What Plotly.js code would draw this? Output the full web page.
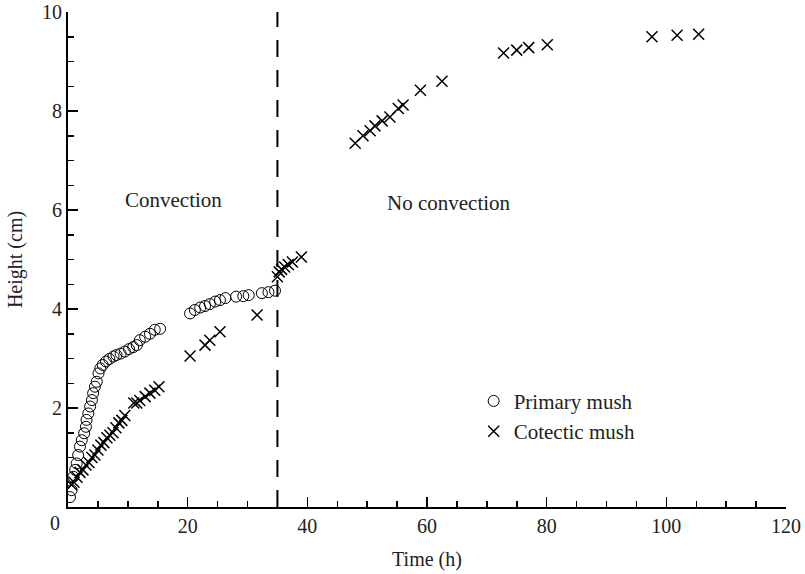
<!DOCTYPE html>
<html>
<head>
<meta charset="utf-8">
<script src="https://cdn.plot.ly/plotly-3.0.1.min.js"></script>
<style>html,body{margin:0;padding:0;background:#fff;}#chart{width:805px;height:574px;}</style>
</head>
<body>
<div id="chart"></div>
<script>
// Primary mush (open circles)
const primaryTime = [0.33,0.6,0.9,1.2,1.45,1.7,2.0,2.3,2.7,3.0,3.1,3.4,3.7,4.0,4.2,4.5,4.8,5.1,5.4,5.8,6.35,6.9,7.6,8.1,8.8,9.5,10.2,10.9,11.5,12.0,12.9,13.7,14.5,15.4,
  20.4,21.2,22.1,22.9,23.7,24.6,25.4,26.3,28.1,29.3,30.2,32.4,33.5,34.6];
const primaryHeight = [0.2,0.34,0.61,0.75,0.88,1.05,1.22,1.35,1.49,1.62,1.76,1.89,2.03,2.16,2.3,2.43,2.53,2.7,2.8,2.87,2.94,2.99,3.04,3.07,3.1,3.14,3.19,3.23,3.27,3.37,3.44,3.5,3.58,3.6,
  3.91,3.98,4.03,4.06,4.1,4.15,4.18,4.22,4.25,4.26,4.28,4.32,4.34,4.37];
// Cotectic mush (crosses)
const cotecticTime = [0.6,1.0,1.5,2.0,2.5,3.0,3.5,4.0,4.5,5.0,5.5,6.0,6.5,7.0,7.5,8.0,8.5,9.0,9.5,11.0,11.5,12.0,12.9,13.7,14.5,15.2,
  20.4,22.9,23.7,25.4,31.6,
  35.0,35.3,35.7,36.2,36.8,37.5,39.0,
  48.0,49.3,50.5,51.3,52.5,53.8,55.2,56.0,58.9,62.5,72.8,75.0,77.0,80.1,97.6,101.8,105.4];
const cotecticHeight = [0.45,0.5,0.6,0.7,0.75,0.85,0.9,1.0,1.05,1.15,1.25,1.3,1.4,1.45,1.5,1.6,1.7,1.75,1.85,2.1,2.1,2.15,2.23,2.3,2.36,2.43,
  3.05,3.27,3.37,3.54,3.88,
  4.65,4.75,4.8,4.85,4.9,4.95,5.05,
  7.35,7.5,7.6,7.7,7.8,7.88,8.05,8.12,8.42,8.6,9.17,9.23,9.28,9.34,9.5,9.53,9.55];
const seriesNames = ['Primary mush','Cotectic mush'];
const regimeBoundary = [35];
const regimeLabels = ['Convection','No convection'];
const regimeLabelX = [17.6, 63.7];
const regimeLabelY = [6.2, 6.15];
const xTicks = [20,40,60,80,100,120];
const xTickText = ['20','40','60','80','100','120'];
const yTicks = [2,4,6,8,10];
const yTickText = ['2','4','6','8','10'];

const font = 'Liberation Serif, Times New Roman, serif';
const ink = '#222';

const traces = [
  {x: primaryTime, y: primaryHeight, name: seriesNames[0], mode: 'markers', type: 'scatter',
   marker: {symbol: 'circle-open', size: 11, color: '#000', line: {width: 1, color: '#000'}}},
  {x: cotecticTime, y: cotecticHeight, name: seriesNames[1], mode: 'markers', type: 'scatter',
   marker: {symbol: 'x-thin-open', size: 11, color: '#000', line: {width: 1.5, color: '#000'}}}
];

const axisCommon = {
  showgrid: false, zeroline: false, showline: true, linecolor: '#000', linewidth: 2,
  ticks: 'inside', ticklen: 10, tickwidth: 1.5, tickcolor: '#000',
  tickfont: {family: font, size: 20, color: ink}
};

const layout = {
  width: 805, height: 574,
  margin: {l: 68, r: 19, t: 12, b: 67},
  paper_bgcolor: '#fff', plot_bgcolor: '#fff',
  showlegend: true,
  legend: {x: 0.565, y: 0.255, xanchor: 'left', yanchor: 'top', bgcolor: 'rgba(0,0,0,0)',
           font: {family: font, size: 21, color: ink}},
  xaxis: Object.assign({}, axisCommon, {
    range: [0, 120], tickmode: 'array', tickvals: xTicks, ticktext: xTickText,
    minor: {dtick: 5, ticks: 'inside', ticklen: 6, tickwidth: 1.5, tickcolor: '#000'},
    title: {text: 'Time (h)', font: {family: font, size: 20, color: ink}, standoff: 16}
  }),
  yaxis: Object.assign({}, axisCommon, {
    range: [0, 10], tickmode: 'array', tickvals: yTicks, ticktext: yTickText,
    minor: {dtick: 0.5, ticks: 'inside', ticklen: 6, tickwidth: 1.5, tickcolor: '#000'},
    title: {text: 'Height (cm)', font: {family: font, size: 20, color: ink}, standoff: 14}
  }),
  shapes: regimeBoundary.map(t => ({type: 'line', xref: 'x', yref: 'y', x0: t, x1: t, y0: 0, y1: 10,
    line: {color: '#000', width: 2, dash: '17px,13px'}})),
  annotations: regimeLabels.map((txt, i) => ({x: regimeLabelX[i], y: regimeLabelY[i], xref: 'x', yref: 'y',
    text: txt, showarrow: false, font: {family: font, size: 21, color: ink}})).concat([
    {x: 0, y: 0, xref: 'x', yref: 'y', text: '0', showarrow: false, xshift: -13, yshift: -16,
     font: {family: font, size: 20, color: ink}}
  ])
};

Plotly.newPlot('chart', traces, layout, {displayModeBar: false, staticPlot: true});
</script>
</body>
</html>
